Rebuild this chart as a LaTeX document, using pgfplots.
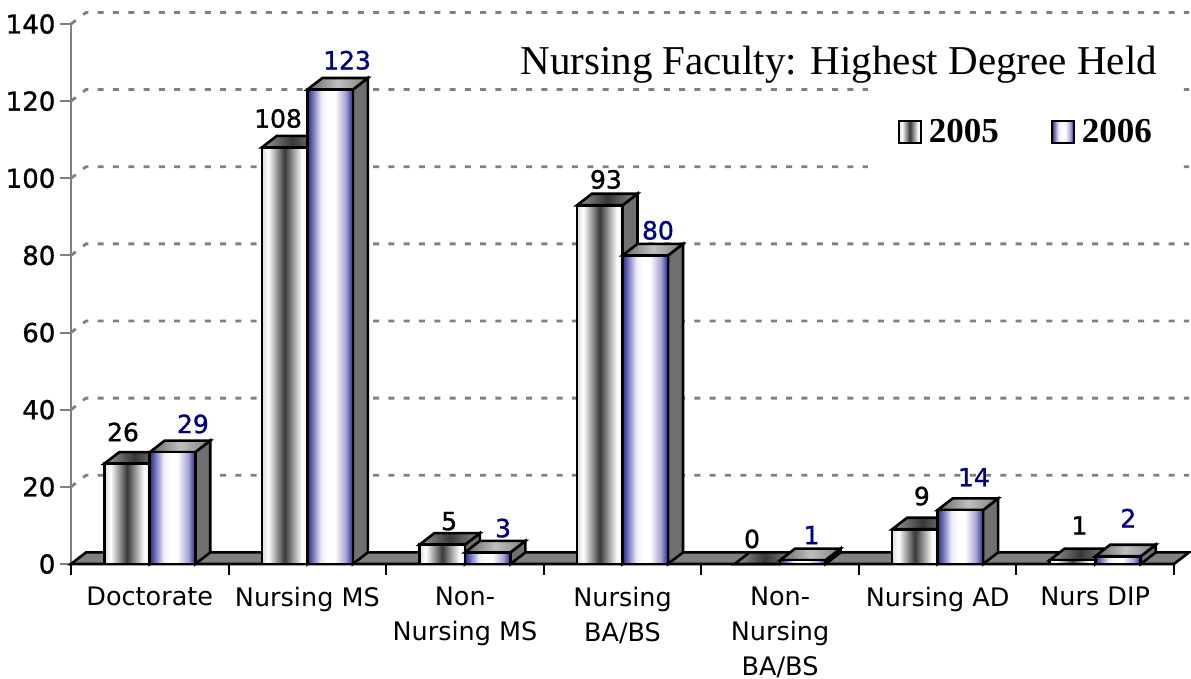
\documentclass[border=0pt]{standalone}
\usepackage{fontspec}
\setmainfont{DejaVu Sans}
\newfontfamily\numfont[FakeBold=1.2]{DejaVu Sans}
\newfontfamily\titlefont{Liberation Serif}
\usepackage{pgfplots}
\pgfplotsset{compat=1.18}

\definecolor{navylab}{HTML}{000080}
\definecolor{gridgray}{HTML}{808080}
\definecolor{sidegray}{HTML}{707070}

% shadings fill the path between 25bp and 75bp
\pgfdeclarehorizontalshading{front05}{100bp}{color(0bp)=(black!14); color(25bp)=(black!14); color(32bp)=(white); color(50bp)=(black!78); color(69bp)=(white); color(75bp)=(black!8); color(100bp)=(black!8)}
\pgfdeclarehorizontalshading{front06}{100bp}{color(0bp)=(navylab!85!white); color(25bp)=(navylab!85!white); color(40bp)=(navylab!8!white); color(47bp)=(white); color(55bp)=(white); color(67bp)=(navylab!35!white); color(75bp)=(navylab!85!white); color(100bp)=(navylab!85!white)}
\pgfdeclarehorizontalshading{top05}{100bp}{color(0bp)=(black!40); color(25bp)=(black!40); color(50bp)=(black!78); color(75bp)=(black!45); color(100bp)=(black!45)}
\pgfdeclarehorizontalshading{top06}{100bp}{color(0bp)=(black!60); color(25bp)=(black!60); color(50bp)=(black!25); color(75bp)=(black!50); color(100bp)=(black!50)}

% one 3D bar: left edge, value, front shading, top shading
\newcommand{\tdbar}[4]{%
  \pgfmathsetmacro\xa{#1}%
  \pgfmathsetmacro\xb{#1+0.2888}%
  \pgfmathsetmacro\xc{#1+0.0952}%
  \pgfmathsetmacro\xd{#1+0.2888+0.0952}%
  \pgfmathsetmacro\yt{#2+3}%
  \addplot[forget plot,fill=sidegray,draw=black] coordinates {(\xb,0) (\xd,3) (\xd,\yt) (\xb,#2)} --cycle;
  \addplot[forget plot,shade,shading=#4,draw=black] coordinates {(\xa,#2) (\xc,\yt) (\xd,\yt) (\xb,#2)} --cycle;
  \addplot[forget plot,shade,shading=#3,draw=black] coordinates {(\xa,0) (\xa,#2) (\xb,#2) (\xb,0)} --cycle;
}
\newcommand{\gridln}[1]{%
  \pgfmathsetmacro\yb{#1+3}%
  \addplot[forget plot,gridgray,line width=2.8pt,dash pattern=on 6pt off 9.3pt] coordinates {(0,#1) (0.0952,\yb) (7.0952,\yb)};
}
\newcommand{\vlab}[4]{\node[text=#4,font=\numfont\fontsize{25}{25}\selectfont] at (axis cs:#1,#2) {#3};}

\begin{document}
\begin{tikzpicture}
\path[use as bounding box] (-71pt,-115pt) rectangle (1120pt,564pt);
\begin{axis}[
    x=157.57pt,
    y=3.857pt,
    xmin=0,xmax=7,
    ymin=0,ymax=140,
    clip=false,
    axis lines*=left,
    x axis line style={-,black,line width=2.6pt},
    y axis line style={-,gridgray,line width=2pt},
    tick align=outside,
    major tick length=11pt,
    minor tick length=11pt,
    major x tick style={draw=none},
    minor x tick style={black,line width=2pt},
    major y tick style={gridgray,line width=2pt},
    xtick={0.5,1.5,2.5,3.5,4.5,5.5,6.5},
    minor xtick={0,1,2,3,4,5,6,7},
    xticklabels={Doctorate,Nursing MS,{Non-\\Nursing MS},{Nursing\\BA/BS},{Non-\\Nursing\\BA/BS},Nursing AD,Nurs DIP},
    xticklabel style={align=center,anchor=north,yshift=-7pt,font=\fontsize{25.5}{35}\selectfont},
    ytick={0,20,40,60,80,100,120,140},
    /pgf/number format/assume math mode=true,
    yticklabel style={font=\numfont\fontsize{26}{26}\selectfont,xshift=0pt},
    title={\titlefont\fontsize{41}{41}\selectfont Nursing Faculty: Highest Degree Held},
    title style={at={(axis description cs:0.696,0.913)},anchor=center},
    legend columns=2,
    legend style={at={(axis cs:6.06,112)},anchor=center,draw=none,fill=none,
      font=\titlefont\bfseries\fontsize{35}{35}\selectfont,
      /tikz/every odd column/.append style={column sep=5pt},
      /tikz/every even column/.append style={column sep=50pt}},
    line width=2.6pt,
    line join=miter,
]
% floor
\addplot[forget plot,fill=gridgray,draw=black] coordinates {(0,0) (0.0952,3) (7.0952,3) (7,0)} --cycle;
% grid at the back wall
\gridln{20}\gridln{40}\gridln{60}\gridln{80}\gridln{100}\gridln{120}\gridln{140}
% white patch behind the legend
\addplot[forget plot,fill=white,draw=none] coordinates {(5.058,101.6) (5.058,125.4) (7.05,125.4) (7.05,101.6)} --cycle;

\tdbar{0.2112}{26}{front05}{top05}
\tdbar{0.5}{29}{front06}{top06}
\tdbar{1.2112}{108}{front05}{top05}
\tdbar{1.5}{123}{front06}{top06}
\tdbar{2.2112}{5}{front05}{top05}
\tdbar{2.5}{3}{front06}{top06}
\tdbar{3.2112}{93}{front05}{top05}
\tdbar{3.5}{80}{front06}{top06}
\tdbar{4.2112}{0}{front05}{top05}
\tdbar{4.5}{1}{front06}{top06}
\tdbar{5.2112}{9}{front05}{top05}
\tdbar{5.5}{14}{front06}{top06}
\tdbar{6.2112}{1}{front05}{top05}
\tdbar{6.5}{2}{front06}{top06}

\vlab{0.33}{34.2}{26}{black}
\vlab{0.774}{36.3}{29}{navylab}
\vlab{1.314}{115.5}{108}{black}
\vlab{1.752}{130.6}{123}{navylab}
\vlab{2.4}{11.1}{5}{black}
\vlab{2.742}{9.3}{3}{navylab}
\vlab{3.395}{99.7}{93}{black}
\vlab{3.725}{86.5}{80}{navylab}
\vlab{4.322}{6.5}{0}{black}
\vlab{4.70}{7.5}{1}{navylab}
\vlab{5.40}{17.6}{9}{black}
\vlab{5.73}{22.5}{14}{navylab}
\vlab{6.40}{10}{1}{black}
\vlab{6.71}{11.9}{2}{navylab}

\addlegendimage{legend image code/.code={\draw[shade,shading=front05,draw=black,line width=2pt] (0pt,-11pt) rectangle (22pt,11pt);}}
\addlegendentry{2005}
\addlegendimage{legend image code/.code={\draw[shade,shading=front06,draw=black,line width=2pt] (0pt,-11pt) rectangle (22pt,11pt);}}
\addlegendentry{2006}
\end{axis}
\end{tikzpicture}
\end{document}
